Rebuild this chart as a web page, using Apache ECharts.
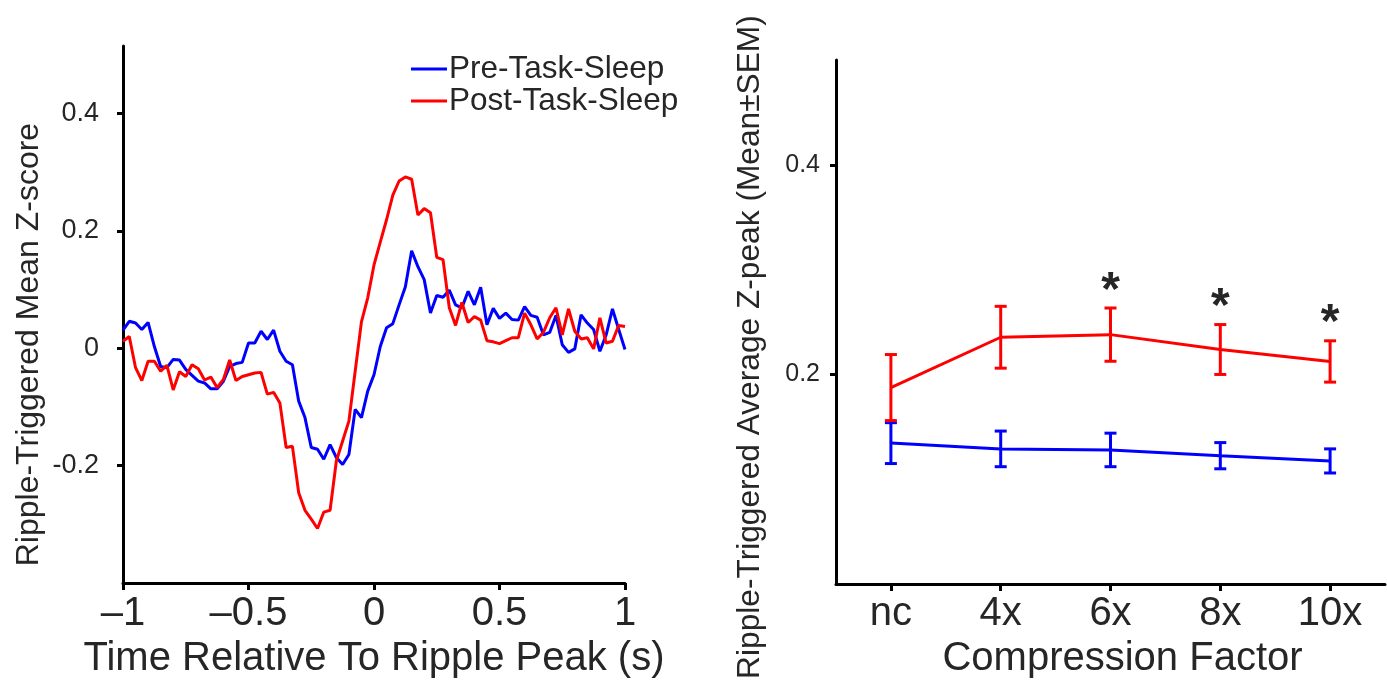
<!DOCTYPE html>
<html>
<head>
<meta charset="utf-8">
<script src="https://cdn.jsdelivr.net/npm/echarts@6.0.0/dist/echarts.min.js"></script>
<style>
html,body{margin:0;padding:0;background:#fff;}
#chart{width:1387px;height:684px;}
</style>
</head>
<body>
<div id="chart"></div>
<script>
// ---------- Left panel: ripple-triggered mean z-score ----------
const timeSec = [
 -1.000,-0.975,-0.950,-0.925,-0.900,-0.875,-0.850,-0.825,-0.800,-0.775,
 -0.750,-0.725,-0.700,-0.675,-0.650,-0.625,-0.600,-0.575,-0.550,-0.525,
 -0.500,-0.475,-0.450,-0.425,-0.400,-0.375,-0.350,-0.325,-0.300,-0.275,
 -0.250,-0.225,-0.200,-0.175,-0.150,-0.125,-0.100,-0.075,-0.050,-0.025,
  0.000, 0.025, 0.050, 0.075, 0.100, 0.125, 0.150, 0.175, 0.200, 0.225,
  0.250, 0.275, 0.300, 0.325, 0.350, 0.375, 0.400, 0.425, 0.450, 0.475,
  0.500, 0.525, 0.550, 0.575, 0.600, 0.625, 0.650, 0.675, 0.700, 0.725,
  0.750, 0.775, 0.800, 0.825, 0.850, 0.875, 0.900, 0.925, 0.950, 0.975, 1.000
];
const preTaskSleep = [
  0.031, 0.046, 0.043, 0.032, 0.044, 0.003,-0.031,-0.033,-0.019,-0.020,
 -0.036,-0.046,-0.056,-0.059,-0.069,-0.069,-0.056,-0.031,-0.026,-0.024,
  0.009, 0.009, 0.029, 0.015, 0.031,-0.005,-0.022,-0.028,-0.090,-0.118,
 -0.169,-0.172,-0.189,-0.164,-0.186,-0.198,-0.181,-0.104,-0.118,-0.073,
 -0.045, 0.003, 0.035, 0.042, 0.074, 0.105, 0.166, 0.139, 0.117, 0.060,
  0.090, 0.087, 0.099, 0.074, 0.069, 0.097, 0.074, 0.104, 0.040, 0.068,
  0.051, 0.060, 0.049, 0.048, 0.071, 0.056, 0.053, 0.023, 0.027, 0.056,
  0.006,-0.007,-0.001, 0.057, 0.043, 0.032,-0.005, 0.023, 0.067, 0.032,-0.002
];
const postTaskSleep = [
  0.012, 0.020,-0.033,-0.055,-0.022,-0.022,-0.039,-0.029,-0.071,-0.040,
 -0.048,-0.028,-0.035,-0.054,-0.049,-0.067,-0.053,-0.020,-0.055,-0.048,
 -0.045,-0.042,-0.041,-0.078,-0.075,-0.093,-0.169,-0.167,-0.246,-0.276,
 -0.291,-0.307,-0.279,-0.276,-0.192,-0.158,-0.124,-0.039, 0.045, 0.086,
  0.142, 0.181, 0.219, 0.261, 0.285, 0.292, 0.288, 0.227, 0.238, 0.231,
  0.155, 0.151, 0.069, 0.039, 0.078, 0.044, 0.054, 0.048, 0.013, 0.011,
  0.008, 0.013, 0.018, 0.018, 0.060, 0.040, 0.016, 0.027, 0.052, 0.069,
  0.023, 0.067, 0.029, 0.016, 0.018,-0.001, 0.052, 0.009, 0.012, 0.039, 0.037
];
const leftXTicks = [-1, -0.5, 0, 0.5, 1];
const leftYTicks = [-0.2, 0, 0.2, 0.4];

// ---------- Right panel: z-peak by compression factor ----------
const categories = ['nc', '4x', '6x', '8x', '10x'];
const preMean  = [0.1345, 0.129, 0.128, 0.1225, 0.1175];
const preSem   = [0.0195, 0.017, 0.016, 0.0125, 0.0115];
const postMean = [0.1875, 0.2355, 0.238, 0.2238, 0.2124];
const postSem  = [0.0315, 0.0295, 0.0254, 0.0238, 0.0197];
const significant = [false, false, true, true, true];
const rightYTicks = [0.2, 0.4];

const BLUE = '#0000ff', RED = '#ff0000', TXT = '#262626', AX = '#000000';
const FONT = '"Liberation Sans", Arial, Helvetica, sans-serif';

function fmtDash(v){ return (v < 0 ? '\u2013' : '') + String(Math.abs(v)); }

function errData(mean, sem){ return mean.map((m,i)=>[i, m - sem[i], m + sem[i]]); }

function errRender(color){
  return function(params, api){
    const x = api.value(0);
    const lo = api.coord([x, api.value(1)]);
    const hi = api.coord([x, api.value(2)]);
    const cw = 6;
    const st = {stroke: color, lineWidth: 3};
    return {type:'group', children:[
      {type:'line', shape:{x1:lo[0], y1:lo[1], x2:hi[0], y2:hi[1]}, style:st},
      {type:'line', shape:{x1:lo[0]-cw, y1:lo[1], x2:lo[0]+cw, y2:lo[1]}, style:st},
      {type:'line', shape:{x1:hi[0]-cw, y1:hi[1], x2:hi[0]+cw, y2:hi[1]}, style:st}
    ]};
  };
}

const starData = [];
significant.forEach((s,i)=>{ if(s) starData.push([i, postMean[i] + postSem[i] + 0.025]); });

const chart = echarts.init(document.getElementById('chart'), null, {renderer:'canvas'});
chart.setOption({
  animation: false,
  backgroundColor: '#ffffff',
  textStyle: {fontFamily: FONT},
  legend: {
    data: ['Pre-Task-Sleep', 'Post-Task-Sleep'],
    orient: 'vertical',
    left: 406, top: 48,
    itemWidth: 36, itemHeight: 3, itemGap: 0,
    icon: 'rect',
    textStyle: {fontSize: 31.5, color: TXT, fontFamily: FONT, padding: [0,0,0,-3]}
  },
  grid: [
    {left: 123, top: 46, width: 502, height: 538},
    {left: 836, top: 60, width: 549, height: 525}
  ],
  xAxis: [
    {
      gridIndex: 0, type: 'value', min: -1, max: 1, interval: 0.5,
      name: 'Time Relative To Ripple Peak (s)', nameLocation: 'middle', nameGap: 54,
      nameTextStyle: {fontSize: 40, color: TXT, fontFamily: FONT},
      axisLine: {show: true, onZero: false, lineStyle: {color: AX, width: 3}},
      axisTick: {show: true, length: 7, lineStyle: {color: AX, width: 3}},
      axisLabel: {fontSize: 40, color: TXT, margin: 11, fontFamily: FONT, formatter: fmtDash},
      splitLine: {show: false}
    },
    {
      gridIndex: 1, type: 'category', data: categories, boundaryGap: true,
      name: 'Compression Factor', nameLocation: 'middle', nameGap: 54,
      nameTextStyle: {fontSize: 40, color: TXT, fontFamily: FONT, padding: [0,0,0,24]},
      axisLine: {show: true, onZero: false, lineStyle: {color: AX, width: 3}},
      axisTick: {show: true, alignWithLabel: true, length: 7, lineStyle: {color: AX, width: 3}},
      axisLabel: {fontSize: 40, color: TXT, margin: 10, fontFamily: FONT},
      splitLine: {show: false}
    }
  ],
  yAxis: [
    {
      gridIndex: 0, type: 'value', min: -0.4, max: 0.515, interval: 0.2,
      name: 'Ripple-Triggered Mean Z-score', nameLocation: 'middle', nameGap: 78,
      nameTextStyle: {fontSize: 32, color: TXT, fontFamily: FONT, padding: [0,60,0,0]},
      axisLine: {show: true, onZero: false, lineStyle: {color: AX, width: 3}},
      axisTick: {show: true, length: 6, customValues: leftYTicks, lineStyle: {color: AX, width: 3}},
      axisLabel: {fontSize: 27, color: TXT, margin: 24, fontFamily: FONT, customValues: leftYTicks,
        formatter: v => String(Math.round(v*10)/10)},
      splitLine: {show: false}
    },
    {
      gridIndex: 1, type: 'value', min: 0, max: 0.5, interval: 0.1,
      name: 'Ripple-Triggered Average Z-peak (Mean\u00B1SEM)', nameLocation: 'middle', nameGap: 70,
      nameTextStyle: {fontSize: 31.7, color: TXT, fontFamily: FONT, padding: [0,50,0,0]},
      axisLine: {show: true, onZero: false, lineStyle: {color: AX, width: 3}},
      axisTick: {show: true, length: 6, customValues: rightYTicks, lineStyle: {color: AX, width: 3}},
      axisLabel: {fontSize: 25, color: TXT, margin: 16, fontFamily: FONT, customValues: rightYTicks,
        formatter: v => String(Math.round(v*10)/10)},
      splitLine: {show: false}
    }
  ],
  series: [
    {
      name: 'Pre-Task-Sleep', type: 'line', xAxisIndex: 0, yAxisIndex: 0,
      data: timeSec.map((t,i)=>[t, preTaskSleep[i]]),
      showSymbol: false, symbol: 'none', color: BLUE,
      lineStyle: {color: BLUE, width: 3}
    },
    {
      name: 'Post-Task-Sleep', type: 'line', xAxisIndex: 0, yAxisIndex: 0,
      data: timeSec.map((t,i)=>[t, postTaskSleep[i]]),
      showSymbol: false, symbol: 'none', color: RED,
      lineStyle: {color: RED, width: 3}
    },
    {
      name: 'preLine', type: 'line', xAxisIndex: 1, yAxisIndex: 1,
      data: preMean.map((m,i)=>[i, m]), showSymbol: false, symbol: 'none',
      lineStyle: {color: BLUE, width: 3}, color: BLUE
    },
    {
      name: 'preErr', type: 'custom', xAxisIndex: 1, yAxisIndex: 1,
      data: errData(preMean, preSem), renderItem: errRender(BLUE), z: 3
    },
    {
      name: 'postLine', type: 'line', xAxisIndex: 1, yAxisIndex: 1,
      data: postMean.map((m,i)=>[i, m]), showSymbol: false, symbol: 'none',
      lineStyle: {color: RED, width: 3}, color: RED
    },
    {
      name: 'postErr', type: 'custom', xAxisIndex: 1, yAxisIndex: 1,
      data: errData(postMean, postSem), renderItem: errRender(RED), z: 3
    },
    {
      name: 'stars', type: 'custom', xAxisIndex: 1, yAxisIndex: 1,
      data: starData,
      renderItem: function(params, api){
        const p = api.coord([api.value(0), api.value(1)]);
        const fs = 48;
        return {type:'text', style:{text:'*', x:p[0], y:p[1] + 0.2*fs, fontSize: fs,
          fontWeight: 'bold', fontFamily: FONT, fill: TXT, align:'center', verticalAlign:'middle'}};
      }
    }
  ]
});
</script>
</body>
</html>
